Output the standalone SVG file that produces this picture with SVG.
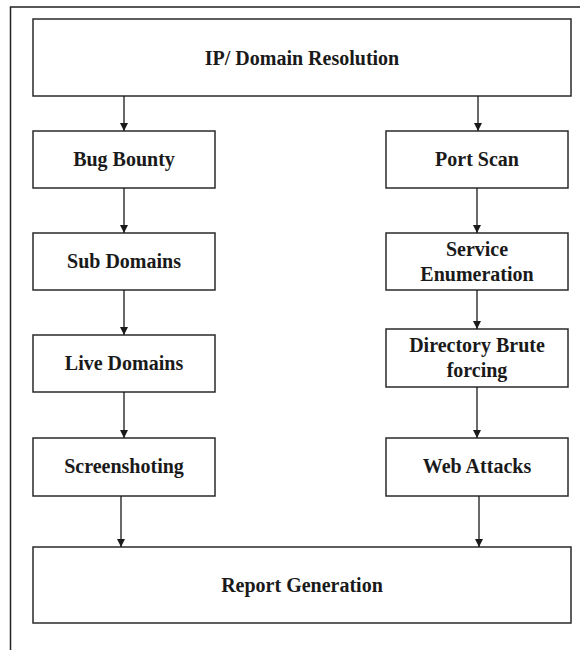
<svg xmlns="http://www.w3.org/2000/svg" width="580" height="650" viewBox="0 0 580 650">
<style>
.box{fill:#fff;stroke:#2a2a2a;stroke-width:1.5}
.lbl{font-family:"Liberation Serif","Times New Roman",serif;font-weight:bold;font-size:20px;fill:#1a1a1a;text-anchor:middle}
.edge{stroke:#1a1a1a;stroke-width:1.3;fill:none;marker-end:url(#ah)}
</style>
<defs>
<marker id="ah" markerWidth="10" markerHeight="10" refX="8" refY="4" orient="auto" markerUnits="userSpaceOnUse">
<path d="M0,0 L8,4 L0,8 Z" fill="#1a1a1a"/>
</marker>
</defs>
<rect width="580" height="650" fill="#fff"/>
<path d="M10.5,650 V7 H580" fill="none" stroke="#222" stroke-width="1.5"/>
<g id="ip"><rect class="box" x="33" y="19" width="538" height="77"/><text class="lbl" x="302" y="65">IP/ Domain Resolution</text></g>
<g id="bug"><rect class="box" x="33" y="131" width="182" height="57"/><text class="lbl" x="124" y="166">Bug Bounty</text></g>
<g id="sub"><rect class="box" x="33" y="233" width="182" height="57"/><text class="lbl" x="124" y="268">Sub Domains</text></g>
<g id="live"><rect class="box" x="33" y="335" width="182" height="57"/><text class="lbl" x="124" y="370">Live Domains</text></g>
<g id="shot"><rect class="box" x="33" y="438" width="182" height="58"/><text class="lbl" x="124" y="473">Screenshoting</text></g>
<g id="port"><rect class="box" x="386" y="131" width="182" height="57"/><text class="lbl" x="477" y="166">Port Scan</text></g>
<g id="svc"><rect class="box" x="386" y="233" width="182" height="57"/><text class="lbl" x="477" y="256">Service</text><text class="lbl" x="477" y="281">Enumeration</text></g>
<g id="dir"><rect class="box" x="386" y="329" width="182" height="58"/><text class="lbl" x="477" y="352">Directory Brute</text><text class="lbl" x="477" y="377">forcing</text></g>
<g id="web"><rect class="box" x="386" y="438" width="182" height="58"/><text class="lbl" x="477" y="473">Web Attacks</text></g>
<g id="report"><rect class="box" x="33" y="547" width="538" height="76"/><text class="lbl" x="302" y="592">Report Generation</text></g>
<g id="connectors">
<line class="edge" x1="124" y1="96" x2="124" y2="131"/>
<line class="edge" x1="478" y1="96" x2="478" y2="131"/>
<line class="edge" x1="124" y1="188" x2="124" y2="233"/>
<line class="edge" x1="124" y1="290" x2="124" y2="335"/>
<line class="edge" x1="124" y1="392" x2="124" y2="438"/>
<line class="edge" x1="121" y1="496" x2="121" y2="547"/>
<line class="edge" x1="477" y1="188" x2="477" y2="233"/>
<line class="edge" x1="477" y1="290" x2="477" y2="329"/>
<line class="edge" x1="477" y1="387" x2="477" y2="438"/>
<line class="edge" x1="479" y1="496" x2="479" y2="547"/>
</g>
</svg>
